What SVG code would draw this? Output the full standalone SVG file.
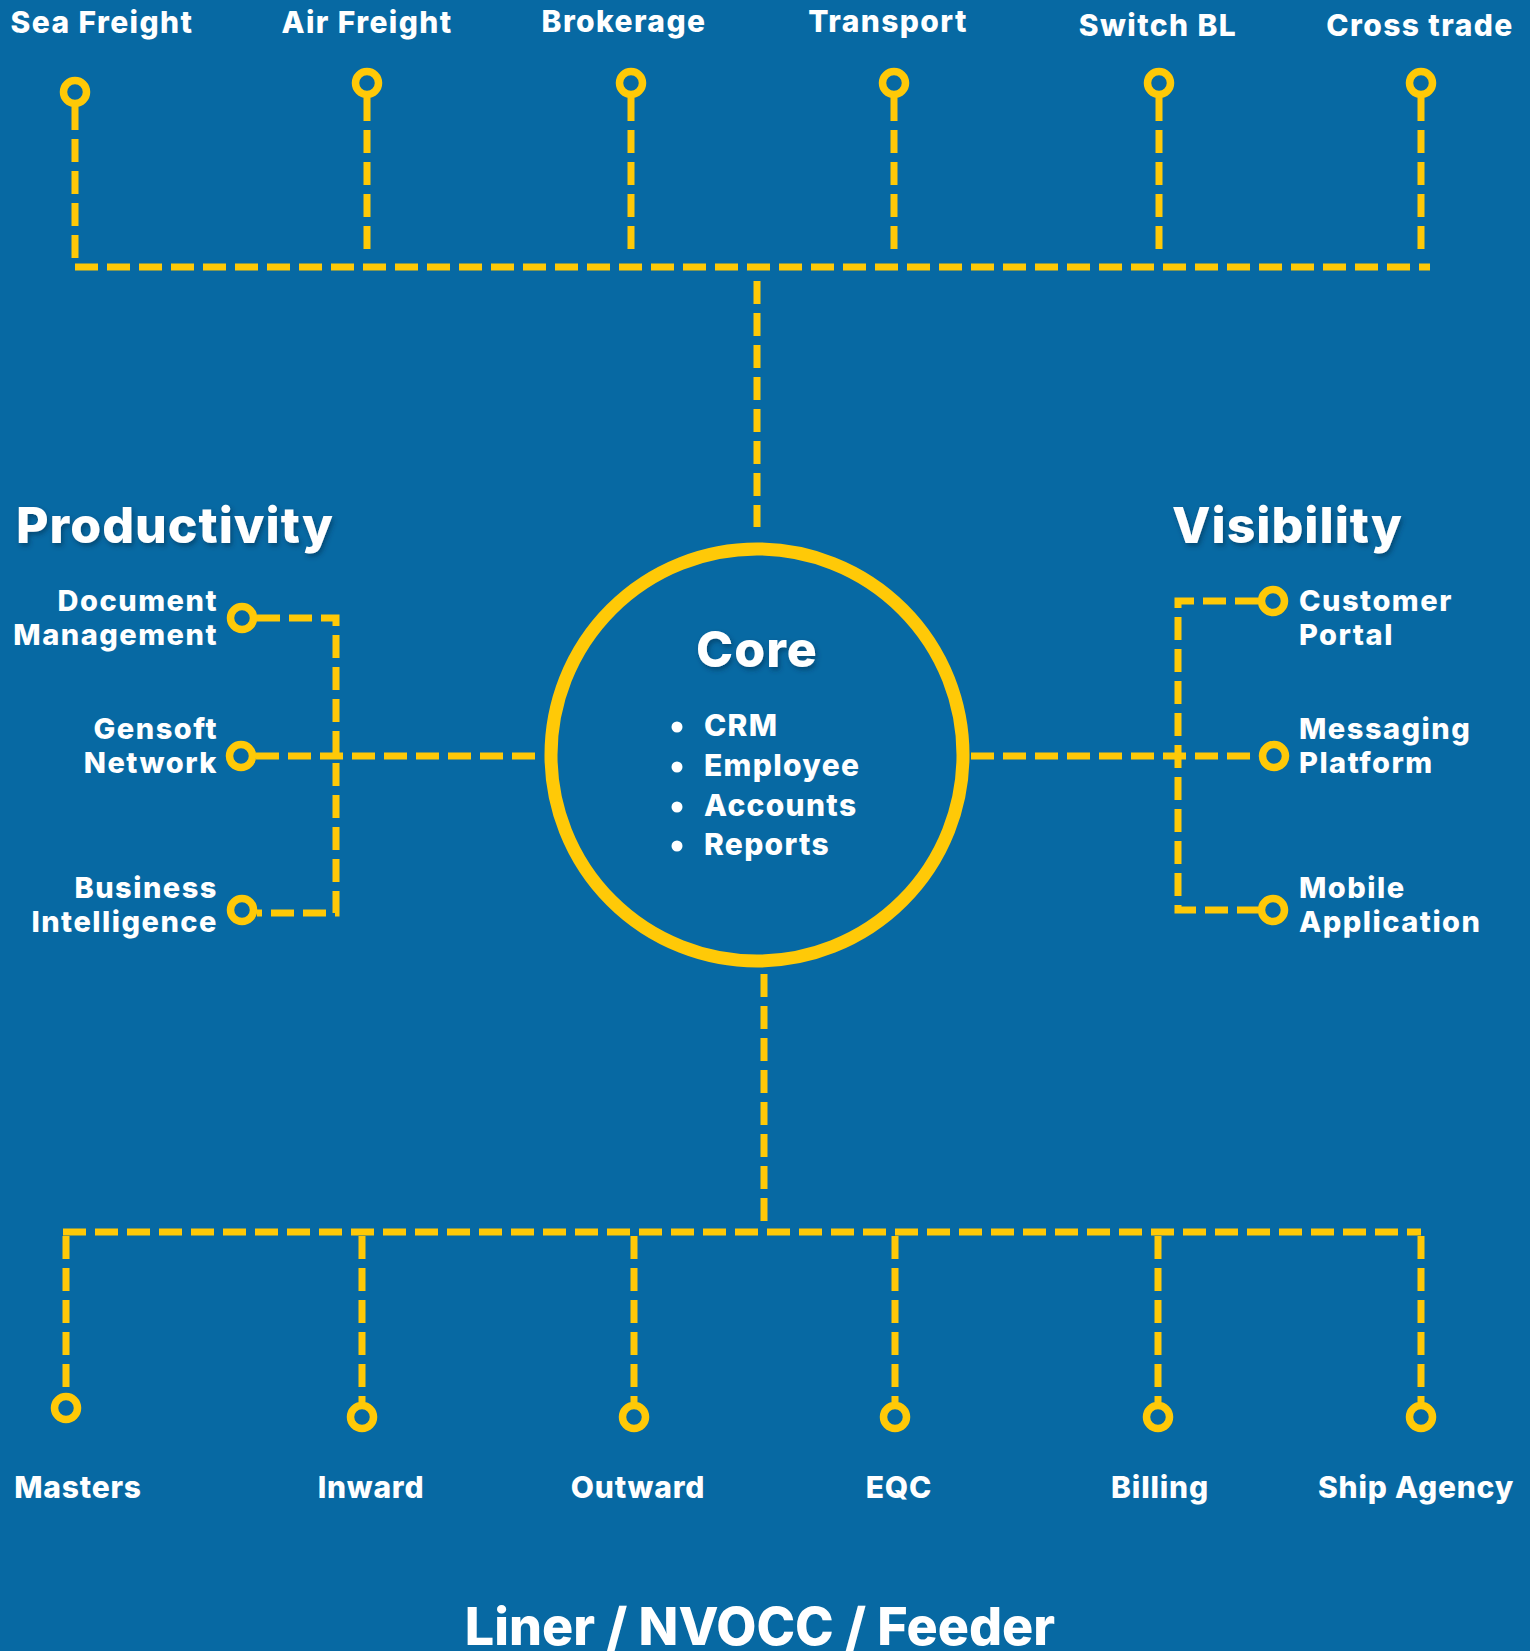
<svg xmlns="http://www.w3.org/2000/svg" width="1530" height="1651" viewBox="0 0 1530 1651">
<style>
  .bg{fill:#0769A3}
  .ln{fill:none;stroke:#FFC907;stroke-width:7;stroke-dasharray:23 9}
  .dot{fill:none;stroke:#FFC907;stroke-width:7.5}
  .t{font-family:Inter,"Open Sans","Liberation Sans",sans-serif;font-weight:800;fill:#FFFFFF}
  .top{font-size:30px;letter-spacing:1.4px;text-anchor:middle}
  .bot{font-size:30px;letter-spacing:0.8px;text-anchor:middle}
  .lft{font-size:29px;letter-spacing:1.5px;text-anchor:end}
  .rgt{font-size:29px;letter-spacing:1.5px;text-anchor:start}
  .hd{font-size:50px;letter-spacing:1px}
  .li{font-size:30px;letter-spacing:1.3px}
</style>
<defs>
  <filter id="sh" x="-10%" y="-20%" width="120%" height="150%">
    <feDropShadow dx="2" dy="3" stdDeviation="2.5" flood-color="#02324f" flood-opacity="0.55"/>
  </filter>
</defs>
<rect class="bg" x="0" y="0" width="1530" height="1651"/>

<g id="connectors">
  <path class="ln" d="M75 267 H1430"/>
  <path class="ln" d="M75 107 V267"/>
  <path class="ln" d="M367 98 V258"/>
  <path class="ln" d="M631 98 V258"/>
  <path class="ln" d="M894 98 V258"/>
  <path class="ln" d="M1159 98 V258"/>
  <path class="ln" d="M1421 98 V258"/>
  <path class="ln" d="M757 281 V527"/>
  <path class="ln" d="M257 618 H336 V913 H257"/>
  <path class="ln" d="M256 756 H544"/>
  <path class="ln" d="M1258 601 H1178 V910 H1258"/>
  <path class="ln" d="M971 756 H1259"/>
  <path class="ln" d="M764 974 V1222"/>
  <path class="ln" d="M63 1232 H1421"/>
  <path class="ln" d="M66 1236 V1393"/>
  <path class="ln" d="M362 1236 V1402"/>
  <path class="ln" d="M634 1236 V1402"/>
  <path class="ln" d="M895 1236 V1402"/>
  <path class="ln" d="M1158 1236 V1402"/>
  <path class="ln" d="M1421 1236 V1402"/>
</g>

<g id="core">
  <circle cx="757" cy="755" r="206" fill="none" stroke="#FFC907" stroke-width="13"/>
  <text class="t hd" x="757" y="667" text-anchor="middle" filter="url(#sh)">Core</text>
  <circle cx="677" cy="727" r="5.5" fill="#fff"/>
  <circle cx="677" cy="767" r="5.5" fill="#fff"/>
  <circle cx="677" cy="807" r="5.5" fill="#fff"/>
  <circle cx="677" cy="846" r="5.5" fill="#fff"/>
  <text class="t li" x="704" y="736">CRM</text>
  <text class="t li" x="704" y="776">Employee</text>
  <text class="t li" x="704" y="816">Accounts</text>
  <text class="t li" x="704" y="855">Reports</text>
</g>

<g id="sea-freight"><circle class="dot" cx="75" cy="92" r="11.5"/><text class="t top" x="102" y="33">Sea Freight</text></g>
<g id="air-freight"><circle class="dot" cx="367" cy="83" r="11.5"/><text class="t top" x="367" y="33">Air Freight</text></g>
<g id="brokerage"><circle class="dot" cx="631" cy="83" r="11.5"/><text class="t top" x="624" y="32">Brokerage</text></g>
<g id="transport"><circle class="dot" cx="894" cy="83" r="11.5"/><text class="t top" x="888" y="32">Transport</text></g>
<g id="switch-bl"><circle class="dot" cx="1159" cy="83" r="11.5"/><text class="t top" x="1158" y="36">Switch BL</text></g>
<g id="cross-trade"><circle class="dot" cx="1421" cy="83" r="11.5"/><text class="t top" x="1420" y="36">Cross trade</text></g>

<g id="productivity"><text class="t hd" x="16" y="543" filter="url(#sh)">Productivity</text></g>
<g id="visibility"><text class="t hd" x="1172" y="543" filter="url(#sh)">Visibility</text></g>

<g id="document-management"><circle class="dot" cx="242" cy="618" r="11.5"/><text class="t lft" x="218" y="611">Document</text><text class="t lft" x="218" y="645">Management</text></g>
<g id="gensoft-network"><circle class="dot" cx="241" cy="756" r="11.5"/><text class="t lft" x="218" y="739">Gensoft</text><text class="t lft" x="218" y="773">Network</text></g>
<g id="business-intelligence"><circle class="dot" cx="242" cy="910" r="11.5"/><text class="t lft" x="218" y="898">Business</text><text class="t lft" x="218" y="932">Intelligence</text></g>

<g id="customer-portal"><circle class="dot" cx="1273" cy="601" r="11.5"/><text class="t rgt" x="1299" y="611">Customer</text><text class="t rgt" x="1299" y="645">Portal</text></g>
<g id="messaging-platform"><circle class="dot" cx="1274" cy="756" r="11.5"/><text class="t rgt" x="1299" y="739">Messaging</text><text class="t rgt" x="1299" y="773">Platform</text></g>
<g id="mobile-application"><circle class="dot" cx="1273" cy="910" r="11.5"/><text class="t rgt" x="1299" y="898">Mobile</text><text class="t rgt" x="1299" y="932">Application</text></g>

<g id="masters"><circle class="dot" cx="66" cy="1408" r="11.5"/><text class="t bot" x="78" y="1498">Masters</text></g>
<g id="inward"><circle class="dot" cx="362" cy="1417" r="11.5"/><text class="t bot" x="371" y="1498">Inward</text></g>
<g id="outward"><circle class="dot" cx="634" cy="1417" r="11.5"/><text class="t bot" x="638" y="1498">Outward</text></g>
<g id="eqc"><circle class="dot" cx="895" cy="1417" r="11.5"/><text class="t bot" x="899" y="1498">EQC</text></g>
<g id="billing"><circle class="dot" cx="1158" cy="1417" r="11.5"/><text class="t bot" x="1160" y="1498">Billing</text></g>
<g id="ship-agency"><circle class="dot" cx="1421" cy="1417" r="11.5"/><text class="t bot" x="1416" y="1498">Ship Agency</text></g>

<g id="footer"><text class="t" x="760" y="1645" font-size="52" text-anchor="middle">Liner / NVOCC / Feeder</text></g>
</svg>
